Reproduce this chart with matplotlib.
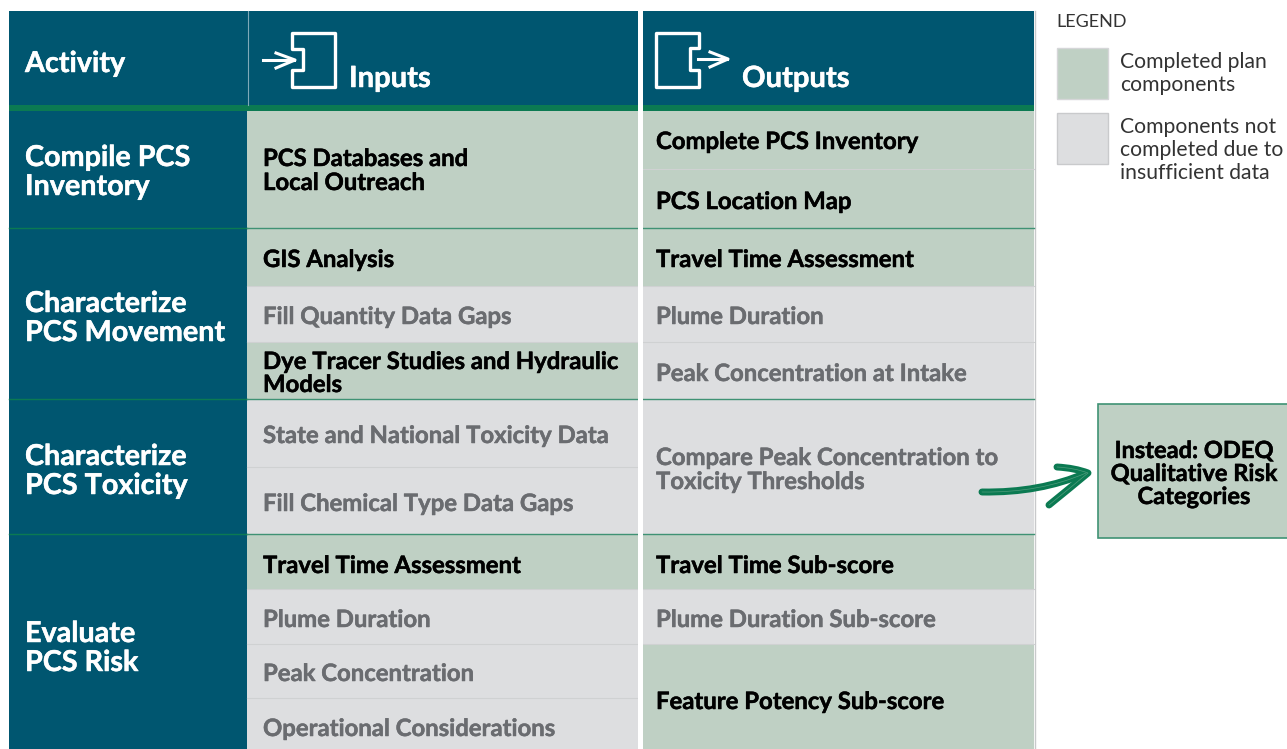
import matplotlib
matplotlib.use('Agg')
import matplotlib.pyplot as plt
import matplotlib.patheffects as pe
from matplotlib.patches import Rectangle, Polygon, PathPatch
from matplotlib.path import Path

NAVY = '#005670'
GREEN = '#0b7a52'
LINE = '#3f9274'
DONE = '#bfd0c4'
NOT_DONE = '#dddee0'
GRAY_TEXT = '#6a6c70'

plt.rcParams['font.family'] = ['Lato', 'DejaVu Sans']

# activities
activities = [['Compile PCS', 'Inventory'], ['Characterize', 'PCS Movement'],
              ['Characterize', 'PCS Toxicity'], ['Evaluate', 'PCS Risk']]
activity_edges = [111, 228, 399, 534, 749]
activity_base = [(166, 195), (312, 341), (465, 494), (642, 671)]

# inputs column, 1 = completed, 0 = not completed
input_labels = [['PCS Databases and', 'Local Outreach'], ['GIS Analysis'], ['Fill Quantity Data Gaps'],
                ['Dye Tracer Studies and Hydraulic', 'Models'], ['State and National Toxicity Data'],
                ['Fill Chemical Type Data Gaps'], ['Travel Time Assessment'], ['Plume Duration'],
                ['Peak Concentration'], ['Operational Considerations']]
input_done = [1, 1, 0, 1, 0, 0, 1, 0, 0, 0]
input_edges = [111, 228, 286, 342, 399, 467, 534, 589, 644, 698, 749]
input_base = [(166, 190), (267,), (324,), (369, 392), (443,), (511,), (573,), (627,), (681,), (736,)]

# outputs column
output_labels = [['Complete PCS Inventory'], ['PCS Location Map'], ['Travel Time Assessment'], ['Plume Duration'],
                 ['Peak Concentration at Intake'], ['Compare Peak Concentration to', 'Toxicity Thresholds'],
                 ['Travel Time Sub-score'], ['Plume Duration Sub-score'], ['Feature Potency Sub-score']]
output_done = [1, 1, 1, 0, 0, 0, 1, 0, 1]
output_edges = [111, 169, 228, 286, 342, 399, 534, 589, 644, 749]
output_base = [(149,), (209,), (267,), (324,), (381,), (465, 489), (573,), (627,), (709,)]

legend_labels = [['Completed plan', 'components'], ['Components not', 'completed due to', 'insufficient data']]

fig = plt.figure(figsize=(12.87, 7.49), dpi=100)
ax = fig.add_axes([0, 0, 1, 1])
ax.set_xlim(0, 1287)
ax.set_ylim(749, 0)
ax.axis('off')


def box(x0, x1, y0, y1, color, **kw):
    ax.add_patch(Rectangle((x0, y0), x1 - x0, y1 - y0, facecolor=color, edgecolor='none', **kw))


def label(x, baselines, lines, size, color='black', weight='bold', ha='left'):
    for y, line in zip(baselines, lines):
        t = ax.text(x, y, line, fontsize=size, color=color, fontweight=weight, ha=ha, va='baseline')
        if weight == 'bold':
            # source type is a bit heavier than Lato Bold
            t.set_path_effects([pe.withStroke(linewidth=0.35, foreground=color)])


# header and activity column
box(9, 1034, 11, 105, NAVY)
box(9, 247, 111, 749, NAVY)
box(9, 1034, 105, 111, GREEN)
ax.plot([247.5, 247.5], [11, 105], color='#7fa9b8', lw=0.8)
box(638, 643, 11, 749, 'white', zorder=3)
ax.plot([1034.5, 1034.5], [11, 749], color='#c8c9cb', lw=1)

label(25, (72,), ['Activity'], 20.7, 'white')
label(349, (87,), ['Inputs'], 21, 'white')
label(742, (87,), ['Outputs'], 21, 'white')

for lines, base in zip(activities, activity_base):
    label(25, base, lines, 20.7, 'white')


def column(x0, x1, tx, edges, done, labels, bases):
    for i in range(len(labels)):
        box(x0, x1, edges[i], edges[i + 1], DONE if done[i] else NOT_DONE)
        label(tx, bases[i], labels[i], 17.2, 'black' if done[i] else GRAY_TEXT)
        if i > 0:
            ax.plot([x0, x1], [edges[i], edges[i]], color='#cfd1d2', lw=0.8)


column(247, 638, 263, input_edges, input_done, input_labels, input_base)
column(643, 1034, 656, output_edges, output_done, output_labels, output_base)

# section rules
for y in activity_edges[1:-1]:
    ax.plot([9, 247], [y, y], color=GREEN, lw=1)
    ax.plot([247, 638], [y, y], color=LINE, lw=1)
    ax.plot([643, 1034], [y, y], color=LINE, lw=1)

# header icons
ax.add_patch(Polygon([(292, 33), (335, 33), (335, 87), (292, 87), (292, 70), (303, 70), (303, 49), (292, 49)],
                     closed=True, fill=False, edgecolor='white', lw=2.4, joinstyle='round'))
ax.plot([263, 294], [60, 60], color='white', lw=2.2)
ax.plot([276, 295, 276], [53, 60, 68], color='white', lw=2.2)
ax.add_patch(Polygon([(656, 33), (699, 33), (699, 48), (690, 48), (690, 70), (699, 70), (699, 87), (656, 87)],
                     closed=True, fill=False, edgecolor='white', lw=2.4, joinstyle='round'))
ax.plot([698, 727], [59, 59], color='white', lw=2.2)
ax.plot([710, 728, 710], [52, 59, 67], color='white', lw=2.2)

# legend
label(1056, (27,), ['LEGEND'], 13, '#333333', 'normal')
ax.add_patch(Rectangle((1056.5, 47.5), 51, 51, facecolor=DONE, edgecolor='#d5d6d8', lw=1))
ax.add_patch(Rectangle((1056.5, 112.5), 51, 51, facecolor=NOT_DONE, edgecolor='#c9cacc', lw=1))
label(1120, (68, 91), legend_labels[0], 15.2, '#333333', 'normal')
label(1120, (133, 156, 179), legend_labels[1], 15.2, '#333333', 'normal')

# callout
ax.add_patch(Rectangle((1097.5, 403.5), 200, 134, facecolor=DONE, edgecolor=LINE, lw=1.2))
label(1194, (458, 481, 504), ['Instead: ODEQ', 'Qualitative Risk', 'Categories'], 17, ha='center')

shaft = Path([(982, 492), (1040, 493), (1086, 473)], [Path.MOVETO, Path.CURVE3, Path.CURVE3])
head = Path([(1057, 467), (1075, 468), (1088, 473), (1070, 488), (1049, 505)],
            [Path.MOVETO, Path.CURVE3, Path.CURVE3, Path.CURVE3, Path.CURVE3])
for p in (shaft, head):
    ax.add_patch(PathPatch(p, fill=False, edgecolor=GREEN, lw=5, capstyle='round', joinstyle='round', zorder=5))
    ax.add_patch(PathPatch(p, fill=False, edgecolor='#4f9c7c', lw=0.5, capstyle='round', joinstyle='round', zorder=6))

fig.savefig('out.png', dpi=100)
